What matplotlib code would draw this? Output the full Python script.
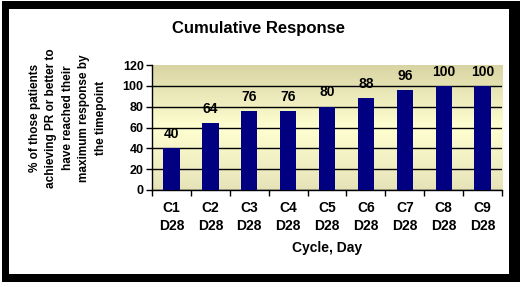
import numpy as np
import matplotlib
matplotlib.use("Agg")
import matplotlib.pyplot as plt
from matplotlib.patches import Rectangle
from matplotlib.colors import LinearSegmentedColormap

# donnees
cycles = ["C1\nD28", "C2\nD28", "C3\nD28", "C4\nD28", "C5\nD28",
          "C6\nD28", "C7\nD28", "C8\nD28", "C9\nD28"]
reponse = [40, 64, 76, 76, 80, 88, 96, 100, 100]
yticks = [0, 20, 40, 60, 80, 100, 120]

plt.rcParams['font.family'] = ['Liberation Sans', 'DejaVu Sans']
plt.rcParams['font.weight'] = 'bold'

W, H = 520, 287
fig = plt.figure(figsize=(W / 100, H / 100), dpi=100)
fig.patch.set_facecolor('white')

# cadre noir (en pixels)
def rect_px(x0, y0, x1, y1):
    fig.patches.append(Rectangle((x0 / W, 1 - y1 / H), (x1 - x0) / W, (y1 - y0) / H,
                                 transform=fig.transFigure, facecolor='black',
                                 edgecolor='none', zorder=10))

rect_px(2, 1, 520, 9)      # haut
rect_px(2, 1, 9, 282)      # gauche
rect_px(509, 1, 520, 282)  # droite
rect_px(2, 274, 520, 282)  # bas

ax = fig.add_axes([152 / W, 1 - 190 / H, 350 / W, 125 / H])

# fond degrade jaune
cmap = LinearSegmentedColormap.from_list(
    "fond", [(0.0, (0.90, 0.89, 0.72)), (0.5, (1.0, 1.0, 0.82)), (1.0, (0.85, 0.83, 0.64))])
grad = np.linspace(0, 1, 256).reshape(-1, 1)
ax.imshow(grad, aspect='auto', cmap=cmap, extent=(-0.5, 8.5, 0, 120),
          origin='lower', zorder=0)

x = np.arange(len(cycles))
ax.bar(x, reponse, width=0.42, color='#000080', zorder=3)
for xi, v in zip(x, reponse):
    ax.text(xi, v + 7, str(v), ha='center', va='bottom', fontsize=10,
            fontweight='bold', zorder=4)

ax.set_xlim(-0.5, 8.5)
ax.set_ylim(0, 120)
ax.set_yticks(yticks)
ax.tick_params(axis='y', labelsize=9, length=4, width=1, direction='out', pad=2)
ax.set_xticks(x)
ax.set_xticklabels(cycles, fontsize=10, fontweight='bold', linespacing=1.35)
ax.set_xticks(np.arange(-0.5, 9, 1), minor=True)
ax.tick_params(axis='x', which='major', length=0, pad=8)
ax.tick_params(axis='x', which='minor', length=4, width=1, direction='out')

ax.yaxis.grid(True, color='black', linewidth=1, zorder=1)
ax.set_axisbelow(True)
ax.get_ygridlines()[-1].set_visible(False)

for s in ['top', 'right']:
    ax.spines[s].set_visible(False)
ax.spines['left'].set_linewidth(1)
ax.spines['bottom'].set_linewidth(1)

ax.set_xlabel("Cycle, Day", fontsize=10, fontweight='bold', labelpad=6)
fig.text(68 / W, 1 - 118 / H,
         "% of those patients\nachieving PR or better to\nhave reached their\n"
         "maximum response by\nthe timepoint",
         rotation=90, ha='center', va='center', fontsize=8.5, fontweight='bold',
         linespacing=1.5, multialignment='center')
fig.text(258 / W, 1 - 28 / H, "Cumulative Response", ha='center', va='center',
         fontsize=12, fontweight='bold')

fig.savefig("out.png", dpi=100)
